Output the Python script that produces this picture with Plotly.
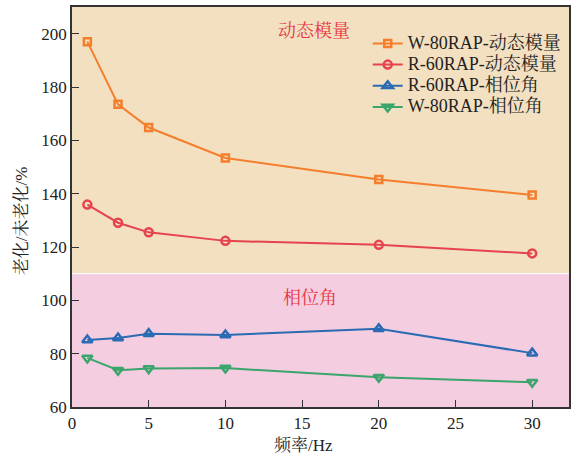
import plotly.graph_objects as go

freq = [1, 3, 5, 10, 20, 30]
w80_modulus = [197.0, 173.5, 164.8, 153.4, 145.3, 139.5]
r60_modulus = [135.9, 129.1, 125.5, 122.3, 120.8, 117.6]
r60_phase = [85.1, 85.9, 87.5, 87.0, 89.3, 80.2]
w80_phase = [78.4, 73.8, 74.4, 74.6, 71.2, 69.3]

series = [
    ("W-80RAP-动态模量", w80_modulus, "#F47E2C", "square-open", 7),
    ("R-60RAP-动态模量", r60_modulus, "#E6434F", "circle-open", 8),
    ("R-60RAP-相位角", r60_phase, "#2A6BB3", "triangle-up-open", 9),
    ("W-80RAP-相位角", w80_phase, "#3BA56C", "triangle-down-open", 9),
]

font_family = "Liberation Serif, Noto Serif CJK SC, Noto Sans CJK SC, serif"

fig = go.Figure()
for name, vals, color, sym, sz in series:
    fig.add_trace(go.Scatter(
        x=freq, y=vals, name="<span style='font-size:18px'>" + name + "</span>",
        mode="lines+markers",
        line=dict(color=color, width=2),
        marker=dict(symbol=sym, size=sz, color=color, line=dict(width=2.5, color=color)),
    ))

fig.add_shape(type="rect", xref="paper", yref="y", x0=0, x1=1, y0=110, y1=210,
              fillcolor="#F2E0C0", line_width=0, layer="below")
fig.add_shape(type="rect", xref="paper", yref="y", x0=0, x1=1, y0=60, y1=110,
              fillcolor="#F4CDE1", line_width=0, layer="below")
fig.add_shape(type="line", xref="paper", yref="y", x0=0, x1=1, y0=110, y1=110,
              line=dict(color="white", width=1), layer="below")

fig.add_annotation(x=15.8, y=201, text="动态模量", showarrow=False,
                   font=dict(size=18, color="#E8353F", family=font_family))
fig.add_annotation(x=15.5, y=101, text="相位角", showarrow=False,
                   font=dict(size=18, color="#E8353F", family=font_family))

# axis titles
fig.add_annotation(xref="paper", yref="paper", x=0.465, y=-0.068, yanchor="top",
                   text="频率/Hz", showarrow=False, font=dict(size=17, color="#222"))
fig.add_annotation(xref="paper", yref="paper", x=-0.077, y=0.465, xanchor="right",
                   text="老化/未老化/%", showarrow=False, textangle=-90,
                   font=dict(size=17, color="#222"))

fig.update_layout(
    width=571, height=454,
    margin=dict(l=72, r=2, t=7, b=47),
    paper_bgcolor="white", plot_bgcolor="rgba(0,0,0,0)",
    font=dict(family=font_family, size=17, color="#222"),
    legend=dict(x=0.595, y=0.948, xanchor="left", yanchor="top",
                bgcolor="rgba(0,0,0,0)", font=dict(size=14, color="#222"),
                tracegroupgap=0, itemwidth=30),
    showlegend=True,
)
fig.update_xaxes(range=[0, 32.4], tickvals=[0, 5, 10, 15, 20, 25, 30],
                 ticks="inside", ticklen=7, tickcolor="#333", tickwidth=1.2,
                 showline=True, linecolor="#333", linewidth=1.5, mirror=True,
                 showgrid=False, zeroline=False, automargin=False)
fig.update_yaxes(range=[60, 210], tickvals=[60, 80, 100, 120, 140, 160, 180, 200],
                 ticks="inside", ticklen=7, tickcolor="#333", tickwidth=1.2,
                 showline=True, linecolor="#333", linewidth=1.5, mirror=True,
                 showgrid=False, zeroline=False, automargin=False)

fig.write_html("out.html", config={"displayModeBar": False},
               post_script="document.body.style.margin='0';document.body.style.overflow='hidden';")
